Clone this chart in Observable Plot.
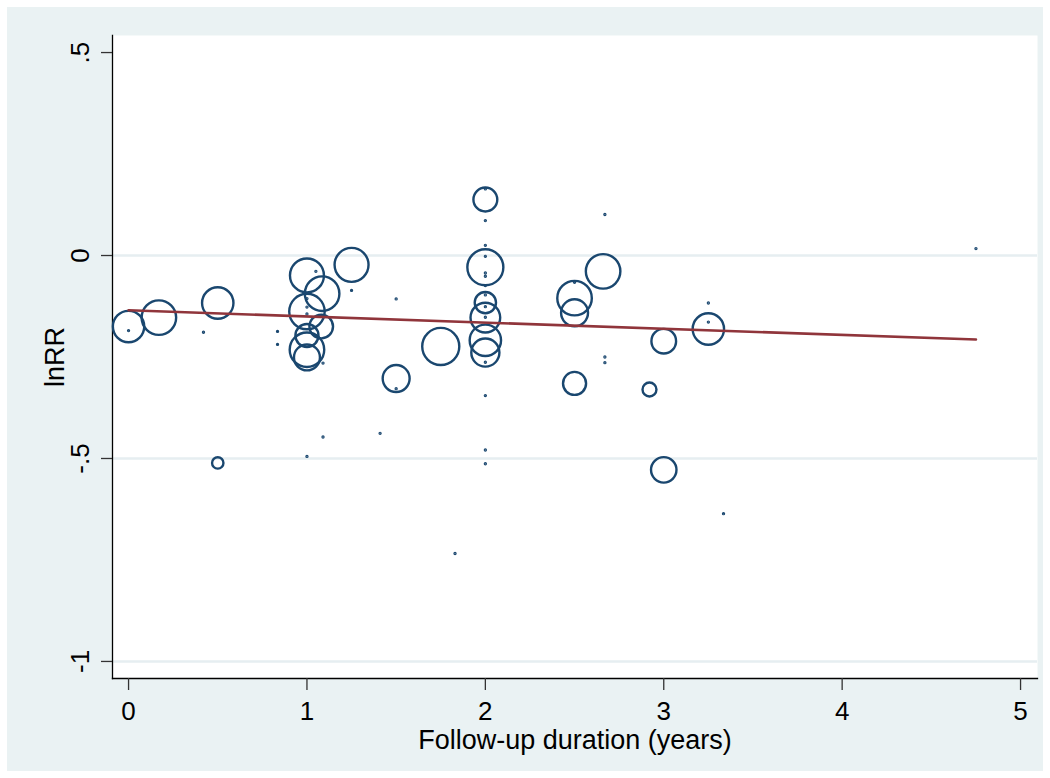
<!DOCTYPE html>
<html>
<head>
<meta charset="utf-8">
<script src="https://cdn.jsdelivr.net/npm/d3@7"></script>
<script src="https://cdn.jsdelivr.net/npm/@observablehq/plot@0.6"></script>
<style>
  html, body { margin: 0; padding: 0; background: #ffffff; }
  #chart { position: absolute; left: 7px; top: 7px; }
  #chart svg { display: block; background: #eaf2f3; }
</style>
</head>
<body>
<div id="chart"></div>
<script>
// Study-level data: follow-up duration (years), lnRR, relative weight
const duration = [
  0, 0.17, 0.5, 0.5, 1.0, 1.085, 1.25, 1.0, 1.08, 1.0, 1.0, 1.0, 1.5, 1.75,
  2.0, 2.0, 2.0, 2.0, 2.0, 2.0, 2.5, 2.5, 2.5, 2.66, 2.92, 3.0, 3.0, 3.25,
  0, 0.42, 0.835, 0.835, 1.0, 1.0, 1.0, 1.05, 1.09, 1.09, 1.0, 1.25, 1.41, 1.5, 1.5, 1.83,
  2.0, 2.0, 2.0, 2.0, 2.0, 2.0, 2.0, 2.0, 2.0, 2.0, 2.0, 2.0, 2.0, 2.0,
  2.5, 2.67, 2.67, 2.67, 3.25, 3.25, 3.335, 4.75
];
const lnRR = [
  -0.175, -0.153, -0.117, -0.511, -0.049, -0.094, -0.023, -0.138, -0.175, -0.197, -0.232, -0.251, -0.303, -0.224,
  0.138, -0.029, -0.116, -0.153, -0.209, -0.239, -0.105, -0.141, -0.315, -0.039, -0.330, -0.211, -0.528, -0.181,
  -0.185, -0.189, -0.187, -0.219, -0.106, -0.127, -0.144, -0.039, -0.265, -0.447, -0.495, -0.086, -0.438, -0.107, -0.328, -0.734,
  0.164, 0.086, 0.025, -0.002, -0.043, -0.051, -0.074, -0.097, -0.126, -0.152, -0.263, -0.345, -0.479, -0.513,
  -0.066, 0.101, -0.250, -0.264, -0.117, -0.164, -0.636, 0.017
];
const weight = [
  7.6, 9.2, 7.6, 1.0, 8.9, 9.2, 8.9, 9.7, 4.3, 4.1, 9.2, 5.2, 5.6, 10.6,
  4.4, 10.0, 3.5, 6.8, 7.6, 6.1, 9.2, 5.6, 4.1, 9.2, 1.5, 4.7, 5.0, 7.6,
  0.01, 0.01, 0.01, 0.01, 0.01, 0.01, 0.01, 0.01, 0.01, 0.01, 0.01, 0.01, 0.01, 0.01, 0.01, 0.01,
  0.01, 0.01, 0.01, 0.01, 0.01, 0.01, 0.01, 0.01, 0.01, 0.01, 0.01, 0.01, 0.01, 0.01,
  0.01, 0.01, 0.01, 0.01, 0.01, 0.01, 0.01, 0.01
];

// Fitted meta-regression line (endpoints)
const fitX = [0, 4.75];
const fitY = [-0.135, -0.207];

// Axis ticks
const xTicks = [0, 1, 2, 3, 4, 5];
const xTickLabels = ["0", "1", "2", "3", "4", "5"];
const yTicks = [0.5, 0, -0.5, -1];
const yTickLabels = [".5", "0", "-.5", "-1"];
const yGrid = [0, -0.5, -1];

const studies = duration.map((d, i) => ({x: d, y: lnRR[i], w: weight[i]}));
const bubbles = studies.filter(d => d.w >= 0.5);
const tiny = studies.filter(d => d.w < 0.5);
const fit = fitX.map((d, i) => ({x: d, y: fitY[i]}));

const navy = "#1a476f";
const cranberry = "#90353b";
const font = "'Liberation Sans', Arial, sans-serif";

const chart = Plot.plot({
  width: 1036,
  height: 764,
  marginLeft: 105,
  marginTop: 28,
  marginRight: 6,
  marginBottom: 93,
  style: {fontFamily: font, fontSize: "26px", background: "#eaf2f3", color: "black"},
  x: {domain: [-0.09, 5.095], axis: null},
  y: {domain: [-1.042, 0.542], axis: null},
  r: {type: "sqrt", domain: [0, 10], range: [0, 18]},
  marks: [
    Plot.frame({fill: "white", stroke: null}),
    Plot.ruleY(yGrid, {stroke: "#e6eef1", strokeWidth: 2.5}),
    // axis lines
    Plot.frame({anchor: "left", stroke: "black", strokeWidth: 1.3}),
    Plot.frame({anchor: "bottom", stroke: "black", strokeWidth: 1.3}),
    // ticks
    Plot.axisY(yTicks, {anchor: "left", tickSize: 11, tickFormat: () => "", stroke: "#333", strokeWidth: 1.3, label: null}),
    Plot.axisX(xTicks, {anchor: "bottom", tickSize: 12, tickFormat: () => "", stroke: "#333", strokeWidth: 1.3, label: null}),
    // tick labels
    Plot.text(yTicks, {y: d => d, text: (d, i) => yTickLabels[i], frameAnchor: "left", dx: -32, rotate: -90, textAnchor: "middle", lineAnchor: "middle", fontSize: 26, fill: "black"}),
    Plot.text(xTicks, {x: d => d, text: (d, i) => xTickLabels[i], frameAnchor: "bottom", dy: 33, textAnchor: "middle", lineAnchor: "middle", fontSize: 26, fill: "black"}),
    // axis titles
    Plot.text(["Follow-up duration (years)"], {frameAnchor: "bottom", dy: 62, textAnchor: "middle", lineAnchor: "middle", fontSize: 27, fill: "black"}),
    Plot.text(["lnRR"], {frameAnchor: "left", dx: -57, rotate: -90, textAnchor: "middle", lineAnchor: "middle", fontSize: 27, fill: "black"}),
    // bubbles
    Plot.dot(bubbles, {x: "x", y: "y", r: "w", stroke: navy, strokeWidth: 2.4, fill: "none"}),
    Plot.dot(tiny, {x: "x", y: "y", r: "w", stroke: navy, strokeWidth: 2.2, fill: navy}),
    // fitted line
    Plot.line(fit, {x: "x", y: "y", stroke: cranberry, strokeWidth: 2.6})
  ]
});
document.getElementById("chart").appendChild(chart);
</script>
</body>
</html>
